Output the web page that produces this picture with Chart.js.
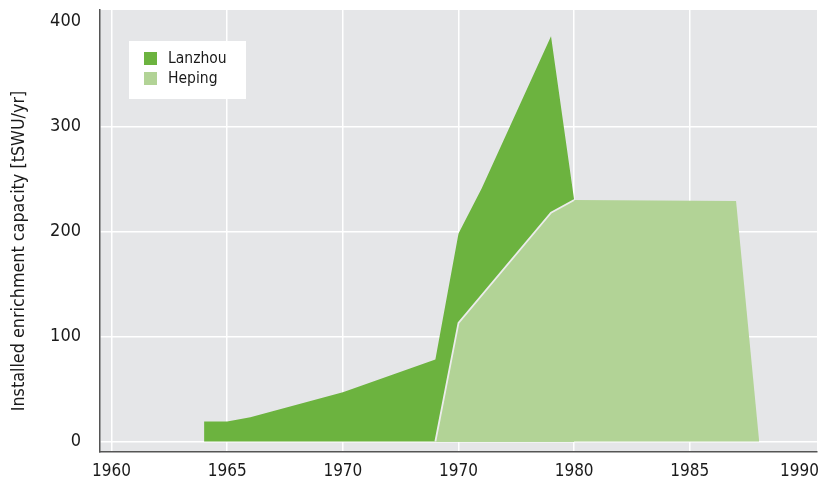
<!DOCTYPE html>
<html><head><meta charset="utf-8">
<script src="https://cdn.jsdelivr.net/npm/chart.js@4/dist/chart.umd.min.js"></script>
<style>html,body{margin:0;padding:0;background:#fff;overflow:hidden;} #wrap{position:relative;width:823px;height:485px;}</style>
</head><body><div id="wrap"><canvas id="c" width="823" height="485"></canvas></div>
<script>
const seriesNames = ['Lanzhou', 'Heping'];
const lanzhouYears = [1964, 1965, 1966, 1970, 1974, 1975, 1976, 1979, 1980];
const lanzhouValues = [19, 19, 23, 47, 78, 198, 241, 386, 230];
const hepingYears = [1974, 1975, 1979, 1980, 1987, 1988];
const hepingValues = [0, 113, 218, 230, 229, 0];
const xTickValues = [1960, 1965, 1970, 1975, 1980, 1985, 1990];
const xTickLabels = ['1960', '1965', '1970', '1970', '1980', '1985', '1990'];
const yTickValues = [0, 100, 200, 300, 400];
const yTickLabels = ['0', '100', '200', '300', '400'];
const yTitle = 'Installed enrichment capacity [tSWU/yr]';

const FONT = "'DejaVu Sans Condensed', 'DejaVu Sans', sans-serif";
const TEXT = '#1a1a1a';
const colors = ['#6cb33f', '#b2d396'];

const bgPlugin = {
  id: 'bg',
  beforeDraw(chart) {
    const { ctx, chartArea: a } = chart;
    ctx.save();
    ctx.fillStyle = '#e5e6e8';
    ctx.fillRect(a.left, a.top, a.right - a.left, a.bottom - a.top);
    ctx.restore();
  }
};

const overlayPlugin = {
  id: 'overlay',
  afterDraw(chart) {
    const ctx = chart.ctx;
    const xs = chart.scales.x;
    ctx.save();
    // x tick labels (kept inside the canvas like the reference)
    ctx.font = '17px ' + FONT;
    ctx.fillStyle = TEXT;
    ctx.textAlign = 'center';
    ctx.textBaseline = 'middle';
    xTickValues.forEach((v, i) => {
      const w = ctx.measureText(xTickLabels[i]).width;
      let px = xs.getPixelForValue(v);
      if (px + w / 2 > chart.width - 4) px = chart.width - 4 - w / 2;
      ctx.fillText(xTickLabels[i], px, 472);
    });
    // legend
    ctx.fillStyle = '#ffffff';
    ctx.fillRect(129, 41, 117, 58);
    ctx.font = '15.5px ' + FONT;
    ctx.textBaseline = 'middle';
    ctx.textAlign = 'left';
    seriesNames.forEach((name, i) => {
      const y = 52 + i * 20;
      ctx.fillStyle = colors[i];
      ctx.fillRect(144, y, 13, 13);
      ctx.fillStyle = TEXT;
      ctx.fillText(name, 168, y + 7);
    });
    // y title
    ctx.translate(19, 251);
    ctx.rotate(-Math.PI / 2);
    ctx.font = '17.8px ' + FONT;
    ctx.textAlign = 'center';
    ctx.textBaseline = 'middle';
    ctx.fillStyle = TEXT;
    ctx.fillText(yTitle, 0, 0);
    ctx.restore();
  }
};

const hepingPoints = hepingYears.map((x, i) => ({ x: x, y: hepingValues[i] }));

new Chart(document.getElementById('c'), {
  type: 'line',
  data: {
    datasets: [
      {
        label: seriesNames[0],
        data: lanzhouYears.map((x, i) => ({ x: x, y: lanzhouValues[i] })),
        backgroundColor: colors[0],
        borderColor: colors[0],
        borderWidth: 0,
        fill: 'origin',
        pointRadius: 0,
        tension: 0,
        order: 3
      },
      {
        label: seriesNames[1],
        data: hepingPoints,
        backgroundColor: colors[1],
        borderColor: colors[1],
        borderWidth: 0,
        fill: 'origin',
        pointRadius: 0,
        tension: 0,
        order: 2
      },
      {
        label: seriesNames[1] + ' edge',
        data: hepingPoints.filter(p => p.x <= 1980),
        borderColor: '#ececec',
        borderWidth: 1.8,
        fill: false,
        pointRadius: 0,
        tension: 0,
        order: 1
      }
    ]
  },
  options: {
    responsive: false,
    animation: false,
    devicePixelRatio: 1,
    layout: { padding: { top: 10, right: 6, left: 0, bottom: 0 } },
    plugins: { legend: { display: false }, tooltip: { enabled: false } },
    scales: {
      x: {
        type: 'linear',
        min: 1959.5,
        max: 1990.5,
        afterBuildTicks: s => { s.ticks = xTickValues.map(v => ({ value: v })); },
        afterFit: s => { s.height = 33; s.paddingLeft = 0; s.paddingRight = 0; },
        ticks: { display: false },
        grid: {
          color: c => (c.tick && c.tick.value === 1990) ? 'rgba(0,0,0,0)' : '#ffffff',
          lineWidth: 1.5, drawTicks: false
        },
        border: { display: true, color: '#555555', width: 1.5 }
      },
      y: {
        type: 'linear',
        min: -10,
        max: 411,
        afterBuildTicks: s => { s.ticks = yTickValues.map(v => ({ value: v })); },
        afterFit: s => { s.width = 100; s.paddingTop = 0; s.paddingBottom = 0; },
        ticks: {
          padding: 19, color: TEXT, font: { family: FONT, size: 18 },
          callback: (v, i) => yTickLabels[i]
        },
        grid: {
          color: c => (c.tick && c.tick.value === 400) ? 'rgba(0,0,0,0)' : '#ffffff',
          lineWidth: 1.5, drawTicks: false
        },
        border: { display: true, color: '#555555', width: 1.5 }
      }
    }
  },
  plugins: [bgPlugin, overlayPlugin]
});
</script></body></html>
